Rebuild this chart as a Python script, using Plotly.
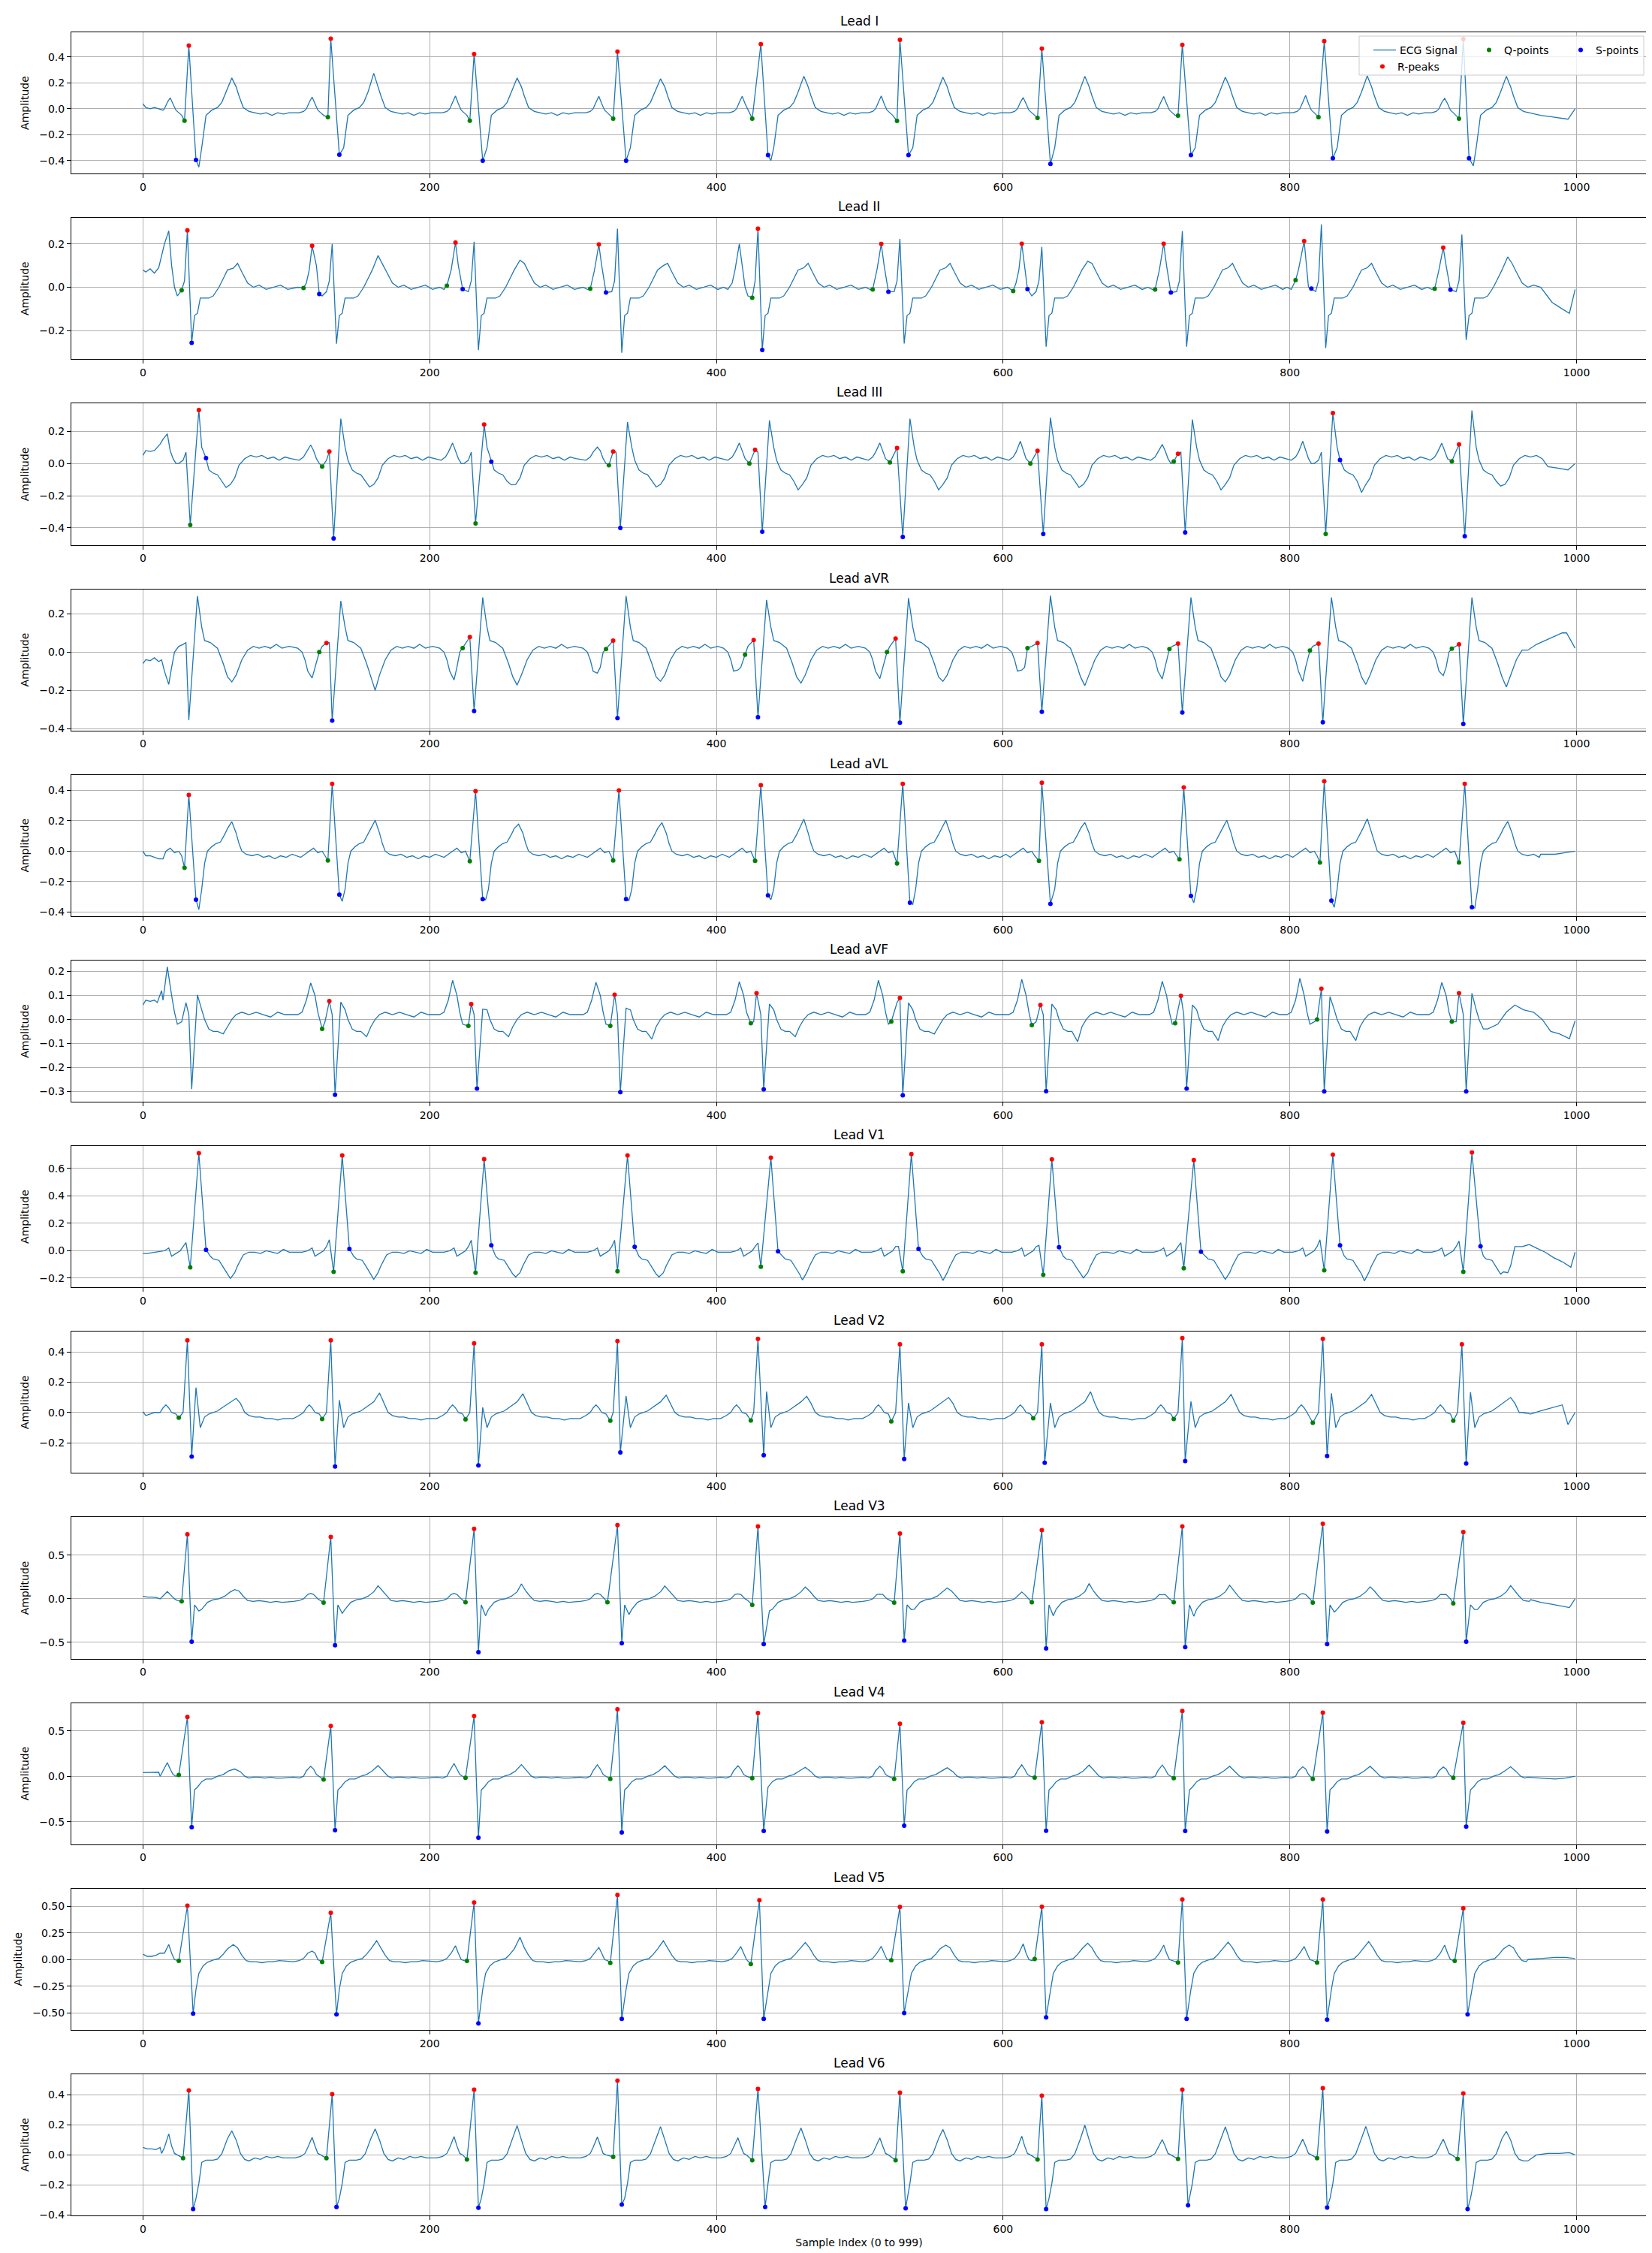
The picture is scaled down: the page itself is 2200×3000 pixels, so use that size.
import plotly.graph_objects as go
from plotly.subplots import make_subplots

LEAD_NAMES = ["I", "II", "III", "aVR", "aVL", "aVF", "V1", "V2", "V3", "V4", "V5", "V6"]
X_TICKS = [0, 200, 400, 600, 800, 1000]

# ---------------- Lead I (anchor = R-peak) ----------------
I_R_X = [32, 131, 231, 331, 431, 528, 627, 725, 824, 921]
I_R_Y = [0.487, 0.541, 0.423, 0.441, 0.499, 0.533, 0.464, 0.493, 0.522, 0.539]
I_Q_X = [29, 129, 228, 328, 425, 526, 624, 722, 820, 918]
I_Q_Y = [-0.091, -0.064, -0.091, -0.075, -0.075, -0.093, -0.070, -0.052, -0.064, -0.075]
I_S_X = [37, 137, 237, 337, 436, 534, 633, 731, 830, 925]
I_S_Y = [-0.394, -0.354, -0.400, -0.400, -0.357, -0.357, -0.425, -0.357, -0.381, -0.381]
I_P = [0.085, 0.091, 0.100, 0.097, 0.097, 0.099, 0.087, 0.095, 0.104, 0.081]
I_T = [0.238, 0.274, 0.238, 0.232, 0.251, 0.245, 0.251, 0.245, 0.255, 0.251]
I_M = [-0.45, -0.40, -0.41, -0.41, -0.40, -0.41, -0.43, -0.41, -0.43, -0.44]
I_TPL_OFF = [-22, -19, -17, -15, -13, -11, -9, -7, -5, 7, 9, 12, 16, 20, 23, 26, 30, 33, 35, 38, 42, 46, 50, 54, 58, 62, 66, 70]
I_TPL_VAL = [-0.03, -0.02, 0.0, 0.05, "P", 0.04, -0.01, -0.03, -0.05, "M", -0.30, -0.05, -0.01, 0.01, 0.05, 0.13, "T",
             0.17, 0.10, 0.01, -0.02, -0.03, -0.04, -0.03, -0.05, -0.03, -0.04, -0.03]
I_HEAD_X = [0, 2, 5, 8, 11, 14]
I_HEAD_Y = [0.04, 0.01, 0.0, 0.01, 0.0, -0.01]
I_TAIL_X = [975, 982, 988, 994, 999]
I_TAIL_Y = [-0.05, -0.06, -0.07, -0.08, 0.0]
I_Y_TICKS = [-0.4, -0.2, 0.0, 0.2, 0.4]

# ---------------- Lead II (anchor = main spike) ----------------
II_SPK = [31, 132, 231, 331, 429, 528, 627, 725, 822, 920]
II_U = [0.265, 0.200, 0.210, 0.270, 0.277, 0.223, 0.186, 0.259, 0.290, 0.243]
II_D = [-0.256, -0.260, -0.290, -0.302, -0.297, -0.259, -0.274, -0.274, -0.280, -0.243]
II_P = [0.260, 0.190, 0.210, 0.198, 0.200, 0.200, 0.200, 0.200, 0.215, 0.186]
II_T = [0.088, 0.146, 0.125, 0.100, 0.090, 0.090, 0.120, 0.090, 0.090, 0.140]
II_R_X = [31, 118, 218, 318, 429, 515, 613, 712, 810, 907]
II_R_Y = [0.262, 0.191, 0.206, 0.197, 0.270, 0.200, 0.201, 0.201, 0.213, 0.183]
II_Q_X = [27, 112, 212, 312, 425, 509, 607, 706, 804, 901]
II_Q_Y = [-0.014, -0.003, 0.007, -0.007, -0.048, -0.010, -0.017, -0.010, 0.033, -0.007]
II_S_X = [34, 123, 223, 323, 432, 520, 617, 717, 815, 912]
II_S_Y = [-0.256, -0.031, -0.009, -0.024, -0.289, -0.021, -0.009, -0.024, -0.006, -0.011]
II_TPL_OFF = [-24, -21, -18, -16, -13, -11, -9, -7, -4, -2, 0, 3, 5, 7, 9, 12, 15, 18, 22, 25, 28, 32, 35, 38, 42, 46, 50, 55, 60, 65, 70]
II_TPL_VAL = [0.0, -0.01, 0.02, 0.08, "P", 0.10, 0.0, -0.04, -0.02, 0.03, "U", "D", -0.13, -0.12, -0.05, -0.05, -0.05, -0.04,
              0.0, 0.04, 0.08, "T", 0.11, 0.07, 0.02, 0.0, 0.01, -0.01, 0.0, 0.01, -0.01]
II_HEAD_X = [0, 2, 5, 8, 11, 13, 15]
II_HEAD_Y = [0.08, 0.07, 0.085, 0.065, 0.09, 0.14, 0.20]
II_TAIL_X = [975, 983, 990, 995, 999]
II_TAIL_Y = [0.0, -0.07, -0.10, -0.12, -0.01]
II_Y_TICKS = [-0.2, 0.0, 0.2]

# ---------------- Lead III (anchor = down spike) ----------------
III_SPK = [33, 133, 232, 333, 432, 530, 628, 727, 825, 922]
III_D = [-0.381, -0.465, -0.372, -0.400, -0.423, -0.456, -0.437, -0.428, -0.437, -0.451]
III_U = [0.332, 0.278, 0.242, 0.257, 0.267, 0.278, 0.285, 0.273, 0.313, 0.329]
III_P = [0.184, 0.115, 0.127, 0.102, 0.127, 0.127, 0.138, 0.118, 0.138, 0.126]
III_T = [-0.149, -0.146, -0.133, -0.146, -0.164, -0.164, -0.149, -0.164, -0.180, -0.140]
III_R_X = [39, 130, 238, 328, 427, 526, 624, 722, 830, 918]
III_R_Y = [0.332, 0.074, 0.242, 0.074, 0.084, 0.096, 0.079, 0.060, 0.313, 0.118]
III_Q_X = [33, 125, 232, 325, 423, 521, 619, 719, 825, 913]
III_Q_Y = [-0.381, -0.019, -0.372, -0.011, 0.0, 0.006, 0.0, 0.012, -0.437, 0.014]
III_S_X = [44, 133, 243, 333, 432, 530, 628, 727, 835, 922]
III_S_Y = [0.033, -0.465, 0.011, -0.400, -0.423, -0.456, -0.437, -0.428, 0.022, -0.451]
III_TPL_OFF = [-24, -21, -19, -16, -14, -12, -10, -8, -5, -3, 0, 5, 8, 10, 13, 16, 19, 22, 25, 28, 31, 34, 38, 42, 46, 50, 54, 58, 62, 66, 70]
III_TPL_VAL = [0.02, 0.04, 0.07, "P", 0.08, 0.03, 0.0, 0.0, 0.02, 0.07, "D", "U", 0.10, 0.02, -0.04, -0.06, -0.07, -0.11,
               "T", -0.13, -0.09, -0.01, 0.03, 0.05, 0.04, 0.05, 0.03, 0.04, 0.02, 0.04, 0.03]
III_HEAD_X = [0, 2, 5, 8, 12, 14]
III_HEAD_Y = [0.05, 0.08, 0.075, 0.08, 0.12, 0.15]
III_TAIL_X = [980, 988, 994, 999]
III_TAIL_Y = [-0.02, -0.03, -0.04, 0.0]
III_Y_TICKS = [-0.4, -0.2, 0.0, 0.2]

# ---------------- Lead aVR (anchor = down spike) ----------------
AVR_SPK = [32, 132, 231, 331, 429, 528, 627, 725, 823, 921]
AVR_D = [-0.356, -0.358, -0.308, -0.345, -0.340, -0.369, -0.312, -0.316, -0.367, -0.376]
AVR_U = [0.293, 0.267, 0.285, 0.293, 0.272, 0.282, 0.295, 0.285, 0.285, 0.285]
AVR_P = [-0.169, -0.136, -0.146, -0.110, -0.094, -0.139, -0.094, -0.141, -0.153, -0.123]
AVR_T = [-0.156, -0.200, -0.173, -0.153, -0.162, -0.153, -0.175, -0.156, -0.169, -0.182]
AVR_R_X = [128, 228, 328, 426, 525, 624, 722, 820, 918]
AVR_R_Y = [0.047, 0.078, 0.060, 0.063, 0.071, 0.047, 0.044, 0.044, 0.040]
AVR_Q_X = [123, 223, 323, 420, 519, 617, 716, 814, 913]
AVR_Q_Y = [0.0, 0.021, 0.016, -0.014, 0.0, 0.021, 0.016, 0.008, 0.018]
AVR_S_X = [132, 231, 331, 429, 528, 627, 725, 823, 921]
AVR_S_Y = [-0.358, -0.308, -0.345, -0.340, -0.369, -0.312, -0.316, -0.367, -0.376]
AVR_TPL_OFF = [-24, -21, -19, -17, -14, -12, -10, -7, -4, -2, 0, 6, 9, 11, 15, 20, 24, 27, 30, 33, 37, 41, 45, 49, 53, 57, 61, 65, 70]
AVR_TPL_VAL = [0.02, 0.0, -0.04, -0.10, "P", -0.08, 0.0, 0.03, 0.04, 0.05, "D", "U", 0.13, 0.06, 0.05, 0.02, -0.06, -0.13,
               "T", -0.12, -0.04, 0.01, 0.03, 0.02, 0.03, 0.02, 0.04, 0.02, 0.03]
AVR_HEAD_X = [0, 2, 5, 8, 11]
AVR_HEAD_Y = [-0.06, -0.04, -0.045, -0.03, -0.05]
AVR_TAIL_X = [966, 972, 978, 984, 990, 993, 999]
AVR_TAIL_Y = [0.01, 0.04, 0.06, 0.08, 0.10, 0.10, 0.02]
AVR_Y_TICKS = [-0.4, -0.2, 0.0, 0.2]

# ---------------- Lead aVL (anchor = R-peak) ----------------
AVL_R_X = [32, 132, 232, 332, 431, 530, 627, 726, 824, 922]
AVL_R_Y = [0.370, 0.444, 0.395, 0.400, 0.435, 0.444, 0.451, 0.420, 0.461, 0.444]
AVL_Q_X = [29, 129, 228, 328, 427, 526, 625, 723, 821, 918]
AVL_Q_Y = [-0.109, -0.061, -0.066, -0.061, -0.063, -0.081, -0.063, -0.054, -0.074, -0.074]
AVL_S_X = [37, 137, 237, 337, 436, 535, 633, 731, 829, 927]
AVL_S_Y = [-0.319, -0.286, -0.316, -0.316, -0.291, -0.339, -0.346, -0.295, -0.326, -0.369]
AVL_M = [-0.385, -0.330, -0.320, -0.325, -0.320, -0.350, -0.355, -0.340, -0.370, -0.375]
AVL_T = [0.194, 0.204, 0.178, 0.188, 0.211, 0.204, 0.189, 0.204, 0.214, 0.196]
AVL_TPL_OFF = [-22, -19, -16, -13, -10, -7, -5, 7, 9, 11, 13, 16, 19, 22, 25, 27, 30, 33, 35, 37, 40, 44, 48, 52, 56, 60, 64, 68, 72]
AVL_TPL_VAL = [-0.04, -0.02, 0.0, 0.02, -0.01, 0.0, -0.03, "M", -0.25, -0.08, 0.0, 0.03, 0.05, 0.06, 0.11, 0.15, "T",
               0.12, 0.05, 0.0, -0.02, -0.03, -0.02, -0.04, -0.03, -0.05, -0.03, -0.04, -0.02]
AVL_HEAD_X = [0, 2, 5, 8, 11, 14]
AVL_HEAD_Y = [0.0, -0.03, -0.03, -0.04, -0.05, -0.05]
AVL_TAIL_X = [975, 985, 992, 999]
AVL_TAIL_Y = [-0.02, -0.02, -0.01, 0.0]
AVL_Y_TICKS = [-0.4, -0.2, 0.0, 0.2, 0.4]

# ---------------- Lead aVF (anchor = down spike) ----------------
AVF_SPK = [34, 134, 233, 333, 433, 530, 630, 728, 824, 923]
AVF_D = [-0.290, -0.314, -0.288, -0.303, -0.291, -0.316, -0.299, -0.288, -0.300, -0.300]
AVF_U = [0.102, 0.072, 0.043, 0.047, 0.064, 0.069, 0.064, 0.060, 0.095, 0.109]
AVF_P = [0.219, 0.152, 0.163, 0.155, 0.157, 0.163, 0.167, 0.159, 0.171, 0.154]
AVF_T = [-0.060, -0.072, -0.072, -0.082, -0.072, -0.061, -0.093, -0.088, -0.088, -0.040]
AVF_R_X = [130, 229, 329, 428, 528, 626, 724, 822, 918]
AVF_R_Y = [0.076, 0.064, 0.103, 0.109, 0.090, 0.060, 0.098, 0.128, 0.109]
AVF_Q_X = [125, 227, 326, 424, 522, 620, 720, 819, 913]
AVF_Q_Y = [-0.039, -0.027, -0.027, -0.016, -0.009, -0.024, -0.016, 0.0, -0.009]
AVF_S_X = [134, 233, 333, 433, 530, 630, 728, 824, 923]
AVF_S_Y = [-0.314, -0.288, -0.303, -0.291, -0.316, -0.299, -0.288, -0.300, -0.300]
AVF_TPL_OFF = [-26, -23, -20, -17, -14, -12, -10, -7, -4, -2, 0, 4, 7, 9, 12, 15, 18, 22, 25, 28, 31, 35, 40, 45, 50, 55, 60, 65]
AVF_TPL_VAL = [0.02, 0.03, 0.08, "P", 0.10, 0.03, -0.02, -0.01, 0.07, 0.02, "D", "U", 0.04, 0.0, -0.04, -0.05, -0.05, "T",
               -0.03, 0.0, 0.02, 0.03, 0.02, 0.03, 0.02, 0.01, 0.03, 0.02]
AVF_HEAD_X = [0, 2, 5, 8, 10, 13]
AVF_HEAD_Y = [0.06, 0.08, 0.075, 0.08, 0.07, 0.12]
AVF_TAIL_X = [938, 945, 951, 957, 963, 970, 976, 982, 988, 995, 999]
AVF_TAIL_Y = [-0.04, -0.02, 0.03, 0.06, 0.04, 0.03, 0.0, -0.05, -0.06, -0.08, -0.005]
AVF_Y_TICKS = [-0.3, -0.2, -0.1, 0.0, 0.1, 0.2]

# ---------------- Lead V1 (anchor = R-peak) ----------------
V1_R_X = [39, 139, 238, 338, 438, 536, 634, 733, 830, 927]
V1_R_Y = [0.712, 0.695, 0.668, 0.695, 0.679, 0.705, 0.666, 0.661, 0.701, 0.717]
V1_Q_X = [33, 133, 232, 331, 431, 530, 628, 726, 824, 921]
V1_Q_Y = [-0.121, -0.154, -0.161, -0.150, -0.116, -0.150, -0.176, -0.127, -0.143, -0.154]
V1_S_X = [44, 144, 243, 343, 443, 541, 639, 738, 835, 933]
V1_S_Y = [0.007, 0.013, 0.040, 0.029, -0.004, 0.013, 0.026, -0.007, 0.040, 0.033]
V1_B = [0.060, 0.080, 0.077, 0.077, 0.057, 0.031, 0.040, 0.059, 0.080, 0.070]
V1_T = [-0.202, -0.209, -0.191, -0.191, -0.213, -0.217, -0.198, -0.209, -0.220, -0.154]
V1_TPL_OFF = [-28, -24, -21, -19, -16, -13, -11, -9, -7, 8, 10, 14, 17, 20, 22, 25, 27, 31, 35, 39, 43, 47, 51, 55, 59, 63]
V1_TPL_VAL = [-0.01, 0.0, 0.02, -0.04, -0.02, 0.0, 0.03, "B", -0.05, -0.04, -0.06, -0.07, -0.12, -0.17, "T", -0.16,
              -0.11, -0.03, -0.01, -0.01, -0.02, 0.0, -0.01, -0.02, 0.01, -0.01]
V1_HEAD_X = [0, 3, 6, 9]
V1_HEAD_Y = [-0.02, -0.02, -0.015, -0.01]
V1_TAIL_X = [957, 962, 967, 972, 978, 984, 990, 996, 999]
V1_TAIL_Y = [0.03, 0.03, 0.045, 0.02, -0.01, -0.05, -0.08, -0.12, -0.01]
V1_Y_TICKS = [-0.2, 0.0, 0.2, 0.4, 0.6]

# ---------------- Lead V2 (anchor = R-peak) ----------------
V2_R_X = [31, 131, 231, 331, 429, 528, 627, 725, 823, 920]
V2_R_Y = [0.476, 0.476, 0.456, 0.471, 0.486, 0.450, 0.450, 0.491, 0.486, 0.450]
V2_Q_X = [25, 125, 225, 326, 424, 522, 621, 719, 816, 914]
V2_Q_Y = [-0.035, -0.043, -0.046, -0.055, -0.053, -0.060, -0.038, -0.043, -0.068, -0.055]
V2_S_X = [34, 134, 234, 333, 433, 531, 629, 727, 826, 923]
V2_S_Y = [-0.291, -0.357, -0.350, -0.264, -0.283, -0.307, -0.332, -0.321, -0.288, -0.337]
V2_E = [0.164, 0.081, 0.033, 0.109, 0.139, 0.063, 0.063, 0.073, 0.126, 0.134]
V2_T = [0.093, 0.129, 0.124, 0.114, 0.106, 0.099, 0.137, 0.119, 0.119, 0.099]
V2_TPL_OFF = [-26, -22, -19, -17, -15, -13, -11, -8, -3, 6, 9, 12, 15, 18, 21, 24, 27, 30, 34, 37, 40, 43, 47, 51, 55, 59, 63, 67]
V2_TPL_VAL = [-0.04, -0.02, 0.0, 0.03, 0.05, 0.03, 0.0, -0.01, 0.0, "E", -0.10, -0.03, -0.01, 0.0, 0.01, 0.03, 0.05, 0.07,
              "T", 0.06, 0.0, -0.02, -0.03, -0.03, -0.04, -0.04, -0.05, -0.04]
V2_HEAD_X = [0, 2, 5, 8, 11]
V2_HEAD_Y = [0.005, -0.02, -0.01, 0.0, 0.0]
V2_TAIL_X = [962, 968, 975, 982, 990, 994, 999]
V2_TAIL_Y = [0.0, -0.01, 0.01, 0.03, 0.05, -0.08, 0.0]
V2_Y_TICKS = [-0.2, 0.0, 0.2, 0.4]

# ---------------- Lead V3 (anchor = R-peak) ----------------
V3_R_X = [31, 131, 231, 331, 429, 528, 627, 725, 823, 921]
V3_R_Y = [0.741, 0.710, 0.802, 0.845, 0.830, 0.750, 0.787, 0.830, 0.862, 0.767]
V3_Q_X = [27, 126, 225, 324, 425, 524, 620, 719, 816, 914]
V3_Q_Y = [-0.029, -0.043, -0.040, -0.040, -0.069, -0.043, -0.040, -0.040, -0.043, -0.052]
V3_S_X = [34, 134, 234, 334, 433, 531, 630, 727, 826, 923]
V3_S_Y = [-0.491, -0.532, -0.612, -0.509, -0.520, -0.480, -0.569, -0.555, -0.520, -0.491]
V3_N = [-0.140, -0.167, -0.195, -0.180, -0.138, -0.124, -0.195, -0.200, -0.152, -0.124]
V3_P = [0.083, 0.063, 0.063, 0.063, 0.057, 0.054, 0.078, 0.046, 0.060, 0.049]
V3_T = [0.106, 0.149, 0.172, 0.147, 0.135, 0.124, 0.175, 0.155, 0.138, 0.152]
V3_TPL_OFF = [-26, -22, -19, -16, -14, -12, -9, -7, 5, 8, 10, 14, 18, 22, 26, 30, 33, 36, 39, 42, 46, 50, 54, 58, 62, 66]
V3_TPL_VAL = [-0.03, -0.02, 0.0, 0.05, "P", 0.05, 0.0, -0.02, -0.07, "N", -0.12, -0.04, -0.01, 0.0, 0.03, 0.08, "T",
              0.09, 0.03, -0.02, -0.03, -0.02, -0.03, -0.04, -0.03, -0.04]
V3_HEAD_X = [0, 3, 6, 9]
V3_HEAD_Y = [0.03, 0.02, 0.02, 0.015]
V3_TAIL_X = [968, 975, 982, 989, 995, 999]
V3_TAIL_Y = [-0.01, -0.04, -0.06, -0.08, -0.10, 0.0]
V3_Y_TICKS = [-0.5, 0.0, 0.5]

# ---------------- Lead V4 (anchor = R-peak) ----------------
V4_R_X = [31, 131, 231, 331, 429, 528, 627, 725, 823, 921]
V4_R_Y = [0.653, 0.554, 0.664, 0.738, 0.697, 0.579, 0.595, 0.719, 0.702, 0.590]
V4_Q_X = [25, 126, 225, 326, 425, 524, 622, 719, 816, 914]
V4_Q_Y = [0.014, -0.036, -0.017, -0.030, -0.022, -0.030, -0.014, -0.022, -0.030, -0.017]
V4_S_X = [34, 134, 234, 334, 433, 531, 630, 727, 826, 923]
V4_S_Y = [-0.562, -0.595, -0.678, -0.620, -0.603, -0.545, -0.600, -0.603, -0.609, -0.554]
V4_P = [0.151, 0.110, 0.140, 0.127, 0.116, 0.110, 0.127, 0.124, 0.105, 0.102]
V4_T = [0.080, 0.118, 0.129, 0.116, 0.099, 0.094, 0.124, 0.110, 0.110, 0.105]
V4_TPL_OFF = [-26, -22, -19, -17, -14, -12, -10, -8, 5, 7, 10, 13, 17, 21, 25, 29, 33, 37, 40, 43, 46, 50, 54, 58, 62, 66]
V4_TPL_VAL = [-0.01, -0.02, 0.0, 0.06, "P", 0.08, 0.02, 0.0, -0.15, -0.12, -0.06, -0.03, -0.03, 0.0, 0.02, 0.06, "T",
              0.05, 0.0, -0.02, -0.01, -0.01, -0.02, -0.01, -0.02, -0.02]
V4_HEAD_X = [0, 4, 8, 11]
V4_HEAD_Y = [0.04, 0.04, 0.04, 0.045]
V4_TAIL_X = [966, 975, 985, 992, 999]
V4_TAIL_Y = [-0.01, -0.02, -0.03, -0.02, 0.0]
V4_Y_TICKS = [-0.5, 0.0, 0.5]

# ---------------- Lead V5 (anchor = R-peak) ----------------
V5_R_X = [31, 131, 231, 331, 430, 528, 627, 725, 823, 921]
V5_R_Y = [0.505, 0.439, 0.535, 0.606, 0.556, 0.493, 0.495, 0.563, 0.563, 0.481]
V5_Q_X = [25, 125, 226, 326, 424, 522, 622, 722, 819, 915]
V5_Q_Y = [-0.012, -0.023, -0.012, -0.031, -0.042, -0.007, 0.005, -0.028, -0.028, -0.012]
V5_S_X = [35, 135, 234, 334, 433, 531, 630, 728, 826, 924]
V5_S_Y = [-0.507, -0.514, -0.599, -0.556, -0.556, -0.502, -0.542, -0.556, -0.563, -0.514]
V5_P = [0.141, 0.080, 0.129, 0.113, 0.122, 0.124, 0.148, 0.136, 0.122, 0.136]
V5_T = [0.141, 0.176, 0.209, 0.176, 0.160, 0.136, 0.153, 0.164, 0.169, 0.136]
V5_TPL_OFF = [-26, -22, -19, -16, -13, -11, -9, -7, 6, 8, 11, 14, 18, 22, 25, 28, 32, 35, 38, 41, 44, 48, 52, 56, 60, 64]
V5_TPL_VAL = [-0.02, -0.01, 0.01, 0.06, "P", 0.06, 0.0, -0.01, -0.28, -0.13, -0.06, -0.025, -0.005, 0.01, 0.05, 0.10, "T",
              0.11, 0.04, -0.01, -0.02, -0.02, -0.03, -0.02, -0.02, -0.01]
V5_HEAD_X = [0, 3, 6, 9, 12]
V5_HEAD_Y = [0.05, 0.03, 0.03, 0.04, 0.06]
V5_TAIL_X = [966, 975, 985, 992, 999]
V5_TAIL_Y = [0.0, 0.01, 0.02, 0.02, 0.01]
V5_Y_TICKS = [-0.5, -0.25, 0.0, 0.25, 0.5]

# ---------------- Lead V6 (anchor = R-peak) ----------------
V6_R_X = [32, 132, 231, 331, 429, 528, 627, 725, 823, 921]
V6_R_Y = [0.430, 0.405, 0.435, 0.495, 0.440, 0.415, 0.395, 0.435, 0.445, 0.410]
V6_Q_X = [28, 128, 226, 328, 425, 525, 624, 722, 819, 917]
V6_Q_Y = [-0.022, -0.022, -0.030, -0.013, -0.035, -0.035, -0.030, -0.027, -0.022, -0.027]
V6_S_X = [35, 135, 234, 334, 434, 532, 630, 729, 826, 924]
V6_S_Y = [-0.360, -0.347, -0.352, -0.330, -0.347, -0.355, -0.360, -0.335, -0.350, -0.360]
V6_P = [0.140, 0.117, 0.122, 0.120, 0.115, 0.113, 0.125, 0.102, 0.105, 0.105]
V6_T = [0.160, 0.173, 0.195, 0.188, 0.180, 0.170, 0.198, 0.187, 0.190, 0.157]
V6_TPL_OFF = [-26, -22, -19, -17, -14, -12, -10, -8, 5, 7, 9, 12, 17, 20, 23, 27, 30, 33, 36, 39, 42, 46, 50, 54, 58, 62, 66]
V6_TPL_VAL = [-0.02, -0.01, 0.01, 0.05, "P", 0.06, 0.01, 0.0, -0.29, -0.19, -0.05, -0.035, -0.035, -0.027, 0.007, 0.11,
              "T", 0.10, 0.01, -0.03, -0.04, -0.02, -0.03, -0.01, -0.02, -0.01, -0.02]
V6_HEAD_X = [0, 3, 6, 9, 12]
V6_HEAD_Y = [0.05, 0.04, 0.04, 0.035, 0.05]
V6_TAIL_X = [966, 972, 980, 988, 995, 999]
V6_TAIL_Y = [-0.04, 0.0, 0.01, 0.01, 0.015, 0.0]
V6_Y_TICKS = [-0.4, -0.2, 0.0, 0.2, 0.4]

# ---------------- assembly ----------------
LEADS = [
    dict(anchor=I_R_X, off=I_TPL_OFF, val=I_TPL_VAL, waves={"P": I_P, "T": I_T, "M": I_M},
         head=(I_HEAD_X, I_HEAD_Y), tail=(I_TAIL_X, I_TAIL_Y),
         R=(I_R_X, I_R_Y), Q=(I_Q_X, I_Q_Y), S=(I_S_X, I_S_Y), ticks=I_Y_TICKS),
    dict(anchor=II_SPK, off=II_TPL_OFF, val=II_TPL_VAL, waves={"P": II_P, "T": II_T, "U": II_U, "D": II_D},
         head=(II_HEAD_X, II_HEAD_Y), tail=(II_TAIL_X, II_TAIL_Y),
         R=(II_R_X, II_R_Y), Q=(II_Q_X, II_Q_Y), S=(II_S_X, II_S_Y), ticks=II_Y_TICKS),
    dict(anchor=III_SPK, off=III_TPL_OFF, val=III_TPL_VAL, waves={"P": III_P, "T": III_T, "U": III_U, "D": III_D},
         head=(III_HEAD_X, III_HEAD_Y), tail=(III_TAIL_X, III_TAIL_Y),
         R=(III_R_X, III_R_Y), Q=(III_Q_X, III_Q_Y), S=(III_S_X, III_S_Y), ticks=III_Y_TICKS),
    dict(anchor=AVR_SPK, off=AVR_TPL_OFF, val=AVR_TPL_VAL, waves={"P": AVR_P, "T": AVR_T, "U": AVR_U, "D": AVR_D},
         head=(AVR_HEAD_X, AVR_HEAD_Y), tail=(AVR_TAIL_X, AVR_TAIL_Y),
         R=(AVR_R_X, AVR_R_Y), Q=(AVR_Q_X, AVR_Q_Y), S=(AVR_S_X, AVR_S_Y), ticks=AVR_Y_TICKS),
    dict(anchor=AVL_R_X, off=AVL_TPL_OFF, val=AVL_TPL_VAL, waves={"T": AVL_T, "M": AVL_M},
         head=(AVL_HEAD_X, AVL_HEAD_Y), tail=(AVL_TAIL_X, AVL_TAIL_Y),
         R=(AVL_R_X, AVL_R_Y), Q=(AVL_Q_X, AVL_Q_Y), S=(AVL_S_X, AVL_S_Y), ticks=AVL_Y_TICKS),
    dict(anchor=AVF_SPK, off=AVF_TPL_OFF, val=AVF_TPL_VAL, waves={"P": AVF_P, "T": AVF_T, "U": AVF_U, "D": AVF_D},
         head=(AVF_HEAD_X, AVF_HEAD_Y), tail=(AVF_TAIL_X, AVF_TAIL_Y),
         R=(AVF_R_X, AVF_R_Y), Q=(AVF_Q_X, AVF_Q_Y), S=(AVF_S_X, AVF_S_Y), ticks=AVF_Y_TICKS),
    dict(anchor=V1_R_X, off=V1_TPL_OFF, val=V1_TPL_VAL, waves={"B": V1_B, "T": V1_T},
         head=(V1_HEAD_X, V1_HEAD_Y), tail=(V1_TAIL_X, V1_TAIL_Y),
         R=(V1_R_X, V1_R_Y), Q=(V1_Q_X, V1_Q_Y), S=(V1_S_X, V1_S_Y), ticks=V1_Y_TICKS),
    dict(anchor=V2_R_X, off=V2_TPL_OFF, val=V2_TPL_VAL, waves={"E": V2_E, "T": V2_T},
         head=(V2_HEAD_X, V2_HEAD_Y), tail=(V2_TAIL_X, V2_TAIL_Y),
         R=(V2_R_X, V2_R_Y), Q=(V2_Q_X, V2_Q_Y), S=(V2_S_X, V2_S_Y), ticks=V2_Y_TICKS),
    dict(anchor=V3_R_X, off=V3_TPL_OFF, val=V3_TPL_VAL, waves={"P": V3_P, "T": V3_T, "N": V3_N},
         head=(V3_HEAD_X, V3_HEAD_Y), tail=(V3_TAIL_X, V3_TAIL_Y),
         R=(V3_R_X, V3_R_Y), Q=(V3_Q_X, V3_Q_Y), S=(V3_S_X, V3_S_Y), ticks=V3_Y_TICKS),
    dict(anchor=V4_R_X, off=V4_TPL_OFF, val=V4_TPL_VAL, waves={"P": V4_P, "T": V4_T},
         head=(V4_HEAD_X, V4_HEAD_Y), tail=(V4_TAIL_X, V4_TAIL_Y),
         R=(V4_R_X, V4_R_Y), Q=(V4_Q_X, V4_Q_Y), S=(V4_S_X, V4_S_Y), ticks=V4_Y_TICKS),
    dict(anchor=V5_R_X, off=V5_TPL_OFF, val=V5_TPL_VAL, waves={"P": V5_P, "T": V5_T},
         head=(V5_HEAD_X, V5_HEAD_Y), tail=(V5_TAIL_X, V5_TAIL_Y),
         R=(V5_R_X, V5_R_Y), Q=(V5_Q_X, V5_Q_Y), S=(V5_S_X, V5_S_Y), ticks=V5_Y_TICKS),
    dict(anchor=V6_R_X, off=V6_TPL_OFF, val=V6_TPL_VAL, waves={"P": V6_P, "T": V6_T},
         head=(V6_HEAD_X, V6_HEAD_Y), tail=(V6_TAIL_X, V6_TAIL_Y),
         R=(V6_R_X, V6_R_Y), Q=(V6_Q_X, V6_Q_Y), S=(V6_S_X, V6_S_Y), ticks=V6_Y_TICKS),
]


def build_signal(L):
    hx, hy = L["head"]
    tx, ty = L["tail"]
    mk_x = list(L["R"][0]) + list(L["Q"][0]) + list(L["S"][0])
    mk_y = list(L["R"][1]) + list(L["Q"][1]) + list(L["S"][1])
    pts = list(zip(hx, hy)) + list(zip(tx, ty)) + list(zip(mk_x, mk_y))
    lo, hi = max(hx), min(tx)
    for i, a in enumerate(L["anchor"]):
        for o, v in zip(L["off"], L["val"]):
            x = a + o
            if x <= lo or x >= hi:
                continue
            if any(abs(x - m) < 1.2 for m in mk_x):
                continue
            y = L["waves"][v][i] if isinstance(v, str) else v
            pts.append((x, y))
    pts.sort(key=lambda p: p[0])
    return [p[0] for p in pts], [p[1] for p in pts]


def fmt_ticks(ticks):
    two = any(abs(round(t * 10) - t * 10) > 1e-6 for t in ticks)
    return [(f"{t:.2f}" if two else f"{t:.1f}").replace("-", "\u2212") for t in ticks]


N = len(LEADS)
fig = make_subplots(rows=N, cols=1, vertical_spacing=59 / 2907,
                    subplot_titles=[f"Lead {n}" for n in LEAD_NAMES])

LINE_COLOR = "#1f77b4"
for k, L in enumerate(LEADS):
    row = k + 1
    sx, sy = build_signal(L)
    first = (k == 0)
    fig.add_trace(go.Scatter(x=sx, y=sy, mode="lines", name="ECG Signal",
                             line=dict(color=LINE_COLOR, width=1.3),
                             showlegend=first, legend="legend", hoverinfo="skip"), row=row, col=1)
    fig.add_trace(go.Scatter(x=L["R"][0], y=L["R"][1], mode="markers", name="R-peaks",
                             marker=dict(color="red", size=6), showlegend=first, legend="legend2"),
                  row=row, col=1)
    fig.add_trace(go.Scatter(x=L["Q"][0], y=L["Q"][1], mode="markers", name="Q-points",
                             marker=dict(color="green", size=6), showlegend=first, legend="legend3"),
                  row=row, col=1)
    fig.add_trace(go.Scatter(x=L["S"][0], y=L["S"][1], mode="markers", name="S-points",
                             marker=dict(color="blue", size=6), showlegend=first, legend="legend4"),
                  row=row, col=1)

    all_y = sy + list(L["R"][1]) + list(L["Q"][1]) + list(L["S"][1])
    ymin, ymax = min(all_y), max(all_y)
    pad = 0.05 * (ymax - ymin)
    ticks = L["ticks"]
    fig.update_yaxes(range=[ymin - pad, ymax + pad], tickvals=ticks, ticktext=fmt_ticks(ticks),
                     title=dict(text="Amplitude", standoff=10, font=dict(size=14)),
                     row=row, col=1)
    fig.update_xaxes(range=[-49.95, 1048.95], tickvals=X_TICKS, ticktext=[str(t) for t in X_TICKS],
                     row=row, col=1)

axis_style = dict(showgrid=True, gridcolor="#b0b0b0", gridwidth=0.8, showline=True, mirror=True,
                  linecolor="black", linewidth=1, ticks="outside", ticklen=5, tickcolor="black",
                  zeroline=False, tickfont=dict(size=14, color="black"), automargin=False)
fig.update_xaxes(**axis_style)
fig.update_yaxes(**axis_style)
fig.update_xaxes(title=dict(text="Sample Index (0 to 999)", standoff=6, font=dict(size=14)), row=N, col=1)

for ann in fig.layout.annotations:
    ann.font = dict(size=17, color="black", family="DejaVu Sans")
    ann.yshift = 3

PW, PL, PT, PH = 2098.0, 87.0, 35.0, 2907.0


def px_x(px):
    return (px - PL) / PW


def px_y(py):
    return 1 - (py - PT) / PH


leg_common = dict(orientation="h", xanchor="left", yanchor="top", bgcolor="rgba(0,0,0,0)",
                  font=dict(size=14), borderwidth=0)
fig.update_layout(
    width=2200, height=3000,
    margin=dict(l=87, r=15, t=35, b=58, autoexpand=False),
    plot_bgcolor="white", paper_bgcolor="white",
    font=dict(family="DejaVu Sans", size=14, color="black"),
    legend=dict(x=px_x(1816), y=px_y(43), **leg_common),
    legend2=dict(x=px_x(1813), y=px_y(65), **leg_common),
    legend3=dict(x=px_x(1955), y=px_y(43), **leg_common),
    legend4=dict(x=px_x(2077), y=px_y(43), **leg_common),
    shapes=[dict(type="rect", xref="paper", yref="paper", x0=px_x(1802), x1=px_x(2181),
                 y0=px_y(92), y1=px_y(40),
                 fillcolor="rgba(255,255,255,0.8)", line=dict(color="#cccccc", width=1), layer="above")],
)

fig.write_html("out.html")
